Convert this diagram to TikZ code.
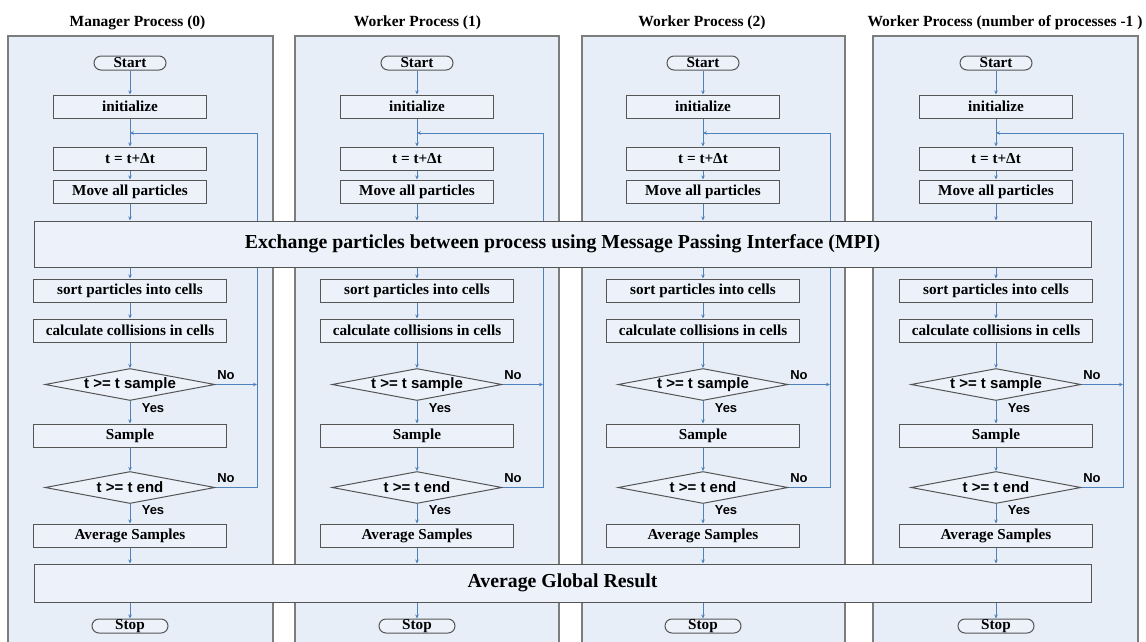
\documentclass[tikz,border=0pt]{standalone}
\usepackage{fontspec}
\setmainfont{Liberation Serif}
\newfontfamily\arialfam{Liberation Sans}
\usetikzlibrary{arrows.meta,shapes.geometric}
\definecolor{panelf}{RGB}{232,238,248}
\definecolor{panelb}{RGB}{125,125,125}
\definecolor{boxf}{RGB}{236,241,250}
\definecolor{boxb}{RGB}{85,85,85}
\definecolor{flow}{RGB}{79,129,189}
\newcommand\boxfont{\fontsize{15.2}{17}\selectfont\bfseries}
\newcommand\titlefont{\fontsize{15.5}{17}\selectfont\bfseries}
\newcommand\bigfont{\fontsize{19.8}{22}\selectfont\bfseries}
\newcommand\decfont{\arialfam\fontsize{15}{17}\selectfont\bfseries}
\newcommand\ynfont{\arialfam\fontsize{13}{15}\selectfont\bfseries}
\begin{document}
\begin{tikzpicture}[x=1pt,y=-1pt,
  panel/.style={draw=panelb, fill=panelf, line width=1.1pt},
  pbox/.style={draw=boxb, fill=boxf, line width=1pt, minimum height=23pt, inner sep=0pt, font=\boxfont},
  term/.style={draw=boxb, fill=boxf, line width=1pt, rounded corners=7pt, minimum width=72pt, minimum height=14pt, inner sep=0pt, font=\boxfont},
  dec/.style={draw=boxb, fill=boxf, line width=1pt, shape=diamond, shape aspect=5.3, minimum width=170pt, minimum height=32pt, inner sep=0pt, font=\decfont},
  bigbox/.style={draw=boxb, fill=boxf, line width=1pt, inner sep=0pt, font=\bigfont},
  yn/.style={font=\ynfont, inner sep=0pt},
  ttl/.style={font=\titlefont, inner sep=0pt},
  flowline/.style={draw=flow, line width=0.8pt},
  arr/.style={flowline, -{Stealth[length=4pt,width=3.5pt]}}
]
\clip (0,0) rectangle (1146,641);
\useasboundingbox (0,0) rectangle (1146,641);
\fill[white] (0,0) rectangle (1146,641);
% panels
\foreach \l/\r in {8/273,295/559,582/845,873/1138}
  \draw[panel] (\l,36) rectangle (\r,660);
% titles
\node[ttl] (title1) at (137.5,22.5) {Manager Process (0)};
\node[ttl] (title2) at (417.5,22.5) {Worker Process (1)};
\node[ttl] (title3) at (702,22.5) {Worker Process (2)};
\node[ttl] (title4) at (1005,22.5) {Worker Process (number of processes -1 )};
% columns
\foreach \i/\cx/\lx in {1/130/257,2/417/543,3/703/830,4/996/1123}{
  \node[term] (start\i) at (\cx,63) {Start};
  \node[pbox, minimum width=153pt] (init\i) at (\cx,106.5) {initialize};
  \coordinate (j\i) at (\cx,133);
  \node[pbox, minimum width=153pt] (tdt\i) at (\cx,158.5) {t = t+Δt};
  \node[pbox, minimum width=153pt] (move\i) at (\cx,191.5) {Move all particles};
  \node[pbox, minimum width=193pt] (sort\i) at (\cx,290.5) {sort particles into cells};
  \node[pbox, minimum width=193pt] (calc\i) at (\cx,330.5) {calculate collisions in cells};
  \node[dec] (da\i) at (\cx,384.5) {t >= t sample};
  \node[pbox, minimum width=193pt] (samp\i) at (\cx,435.5) {Sample};
  \node[dec] (db\i) at (\cx,487.5) {t >= t end};
  \node[pbox, minimum width=193pt] (avg\i) at (\cx,535.5) {Average Samples};
  \node[term, minimum width=76pt] (stop\i) at (\cx,626) {Stop};
  \coordinate (ra\i) at (\lx,384.5);
  \coordinate (rb\i) at (\lx,487.5);
  \coordinate (rt\i) at (\lx,133);
  \draw[arr] (start\i) -- (init\i);
  \draw[arr] (init\i) -- (tdt\i);
  \draw[arr] (tdt\i) -- (move\i);
  \draw[arr] (sort\i) -- (calc\i);
  \draw[arr] (calc\i) -- (da\i);
  \draw[arr] (da\i) -- (samp\i);
  \draw[arr] (samp\i) -- (db\i);
  \draw[arr] (db\i) -- (avg\i);
  \draw[arr] (da\i.east) -- (ra\i);
  \draw[arr] (db\i.east) -- (rb\i) -- (rt\i) -- (j\i);
  \node[yn] (noa\i) at (\cx+96,375) {No};
  \node[yn] (nob\i) at (\cx+96,478) {No};
  \node[yn] (yesa\i) at (\cx+23,408) {Yes};
  \node[yn] (yesb\i) at (\cx+23,510) {Yes};
}
% spanning boxes
\node[bigbox, minimum width=1057pt, minimum height=46pt] (exch) at (562.5,244)
  {Exchange particles between process using Message Passing Interface (MPI)};
\node[bigbox, minimum width=1057pt, minimum height=38pt] (glob) at (562.5,583)
  {Average Global Result};
\foreach \i in {1,2,3,4}{
  \draw[arr] (move\i.south) -- (move\i.south |- exch.north);
  \draw[arr] (sort\i.north |- exch.south) -- (sort\i.north);
  \draw[arr] (avg\i.south) -- (avg\i.south |- glob.north);
  \draw[arr] (stop\i.north |- glob.south) -- (stop\i.north);
}
\end{tikzpicture}
\end{document}
